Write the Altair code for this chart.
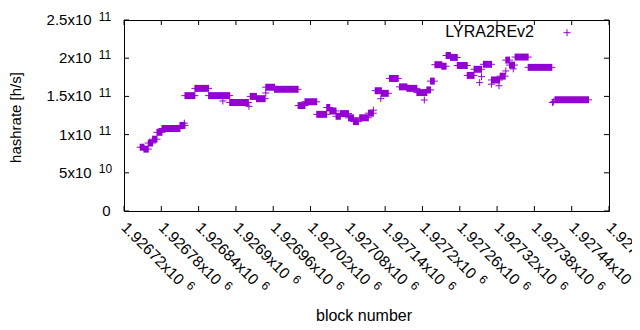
import altair as alt
import pandas as pd

PURPLE = "#9400D3"
FONT = "Liberation Sans"

X_MIN, X_MAX = 1926720, 1927500
Y_MIN, Y_MAX = 0, 2.5e11

# runs of (nearly) constant hashrate: first block, last block, value in 1e9 h/s
run_start = [1926746, 1926752, 1926759, 1926766, 1926773, 1926781, 1926810, 1926818,
             1926834, 1926856, 1926890, 1926923, 1926933, 1926948, 1926962, 1927000,
             1927011, 1927030, 1927046, 1927051, 1927061, 1927068, 1927081, 1927089,
             1927099, 1927113, 1927124, 1927134, 1927147, 1927163, 1927175, 1927191,
             1927207, 1927213, 1927220, 1927231, 1927238, 1927245, 1927256, 1927272,
             1927283, 1927298, 1927311, 1927325, 1927334, 1927340, 1927349, 1927370,
             1927413]
run_end = [1926752, 1926759, 1926766, 1926773, 1926781, 1926810, 1926818, 1926834,
           1926856, 1926890, 1926920, 1926933, 1926947, 1926962, 1927000, 1927011,
           1927030, 1927046, 1927051, 1927061, 1927068, 1927081, 1927089, 1927097,
           1927113, 1927121, 1927134, 1927145, 1927161, 1927175, 1927191, 1927207,
           1927213, 1927219, 1927231, 1927238, 1927245, 1927256, 1927272, 1927283,
           1927295, 1927311, 1927324, 1927333, 1927340, 1927348, 1927370, 1927408,
           1927467]
run_value = [83.5, 81, 89, 94, 103, 108, 112, 151,
             160.5, 151, 142, 150, 147, 162, 159.3, 138,
             143, 126.5, 135.5, 131, 124, 127.5, 122, 117,
             122, 128, 157.5, 154, 173.5, 162.5, 160.5, 155,
             158.5, 170, 191.5, 189.5, 203.5, 201, 190.5, 177.5,
             185.5, 192, 171.5, 176.5, 197.5, 191, 201.5, 188,
             145.5]

# isolated blocks
pt_block = [1926817, 1926879, 1926921, 1926948, 1927121, 1927133, 1927203, 1927292,
            1927295, 1927311, 1927323, 1927334, 1927346, 1927409, 1927411]
pt_value = [115, 144, 137, 154.5, 132, 147, 145.3, 168,
            175.8, 166, 164, 183.3, 186, 142, 143]

x_tick_values = [1926720, 1926780, 1926840, 1926900, 1926960, 1927020, 1927080,
                 1927140, 1927200, 1927260, 1927320, 1927380, 1927440, 1927500]
x_tick_mant = ["1.92672x10", "1.92678x10", "1.92684x10", "1.9269x10", "1.92696x10",
               "1.92702x10", "1.92708x10", "1.92714x10", "1.9272x10", "1.92726x10",
               "1.92732x10", "1.92738x10", "1.92744x10", "1.9275x10"]
x_tick_exp = ["6", "6", "6", "6", "6", "6", "6", "6", "6", "6", "6", "6", "6", "6"]

y_tick_values = [0, 5e10, 1e11, 1.5e11, 2e11, 2.5e11]
y_tick_mant = ["0", "5x10", "1x10", "1.5x10", "2x10", "2.5x10"]
y_tick_exp = ["", "10", "11", "11", "11", "11"]

series_name = "LYRA2REv2"
x_title = "block number"
y_title = "hashrate [h/s]"

W, H = 485, 191

runs = pd.DataFrame({"start": run_start, "end": run_end,
                     "v": [v * 1e9 for v in run_value]})
pts = pd.DataFrame({"block": pt_block, "v": [v * 1e9 for v in pt_value]})
xt = pd.DataFrame({"b": x_tick_values, "lab": x_tick_mant, "e": x_tick_exp})
xt_long = xt[xt["lab"].str.len() == 10]
xt_short = xt[xt["lab"].str.len() == 9]
yt = pd.DataFrame({"t": y_tick_values, "m": y_tick_mant, "e": y_tick_exp})
yt_exp = yt[yt["e"] != ""]
yt_zero = yt[yt["e"] == ""]

xs = alt.Scale(domain=[X_MIN, X_MAX], nice=False, zero=False)
ys = alt.Scale(domain=[Y_MIN, Y_MAX], nice=False, zero=False)

PLUS = "M-1,0H1M0,-1V1"

band = alt.Chart(runs).mark_rect(
    color=PURPLE, xOffset=-0.5, x2Offset=0.5, yOffset=-3.5, y2Offset=3.5
).encode(
    x=alt.X("start:Q", scale=xs, axis=None), x2="end:Q",
    y=alt.Y("v:Q", scale=ys, axis=None), y2="v:Q",
)
arms = alt.Chart(runs).mark_rule(
    color=PURPLE, strokeWidth=1, xOffset=-3.5, x2Offset=3.5
).encode(
    x=alt.X("start:Q", scale=xs, axis=None), x2="end:Q",
    y=alt.Y("v:Q", scale=ys, axis=None),
)
points = alt.Chart(pts).mark_point(
    shape=PLUS, size=49, color=PURPLE, strokeWidth=1, opacity=1, filled=False
).encode(
    x=alt.X("block:Q", scale=xs, axis=None),
    y=alt.Y("v:Q", scale=ys, axis=None),
)

tick_b = alt.Chart(xt).mark_rule(color="black", strokeWidth=1).encode(
    x=alt.X("b:Q", scale=xs, axis=None), y=alt.value(H), y2=alt.value(H - 5))
tick_t = alt.Chart(xt).mark_rule(color="black", strokeWidth=1).encode(
    x=alt.X("b:Q", scale=xs, axis=None), y=alt.value(0), y2=alt.value(5))
tick_l = alt.Chart(yt).mark_rule(color="black", strokeWidth=1).encode(
    y=alt.Y("t:Q", scale=ys, axis=None), x=alt.value(0), x2=alt.value(5))
tick_r = alt.Chart(yt).mark_rule(color="black", strokeWidth=1).encode(
    y=alt.Y("t:Q", scale=ys, axis=None), x=alt.value(W - 5), x2=alt.value(W))

txt = dict(font=FONT, color="black")

XL_Y = H + 14
xlab = alt.Chart(xt).mark_text(
    angle=45, align="left", baseline="middle", fontSize=15.5, **txt
).encode(x=alt.X("b:Q", scale=xs, axis=None), y=alt.value(XL_Y), text="lab:N")
xexp_long = alt.Chart(xt_long).mark_text(
    angle=45, align="left", baseline="middle", fontSize=12,
    dx=87, dy=-4.5, **txt
).encode(x=alt.X("b:Q", scale=xs, axis=None), y=alt.value(XL_Y), text="e:N")
xexp_short = alt.Chart(xt_short).mark_text(
    angle=45, align="left", baseline="middle", fontSize=12,
    dx=78.4, dy=-4.5, **txt
).encode(x=alt.X("b:Q", scale=xs, axis=None), y=alt.value(XL_Y), text="e:N")

ymant = alt.Chart(yt_exp).mark_text(
    align="right", baseline="middle", fontSize=15, **txt
).encode(y=alt.Y("t:Q", scale=ys, axis=None), x=alt.value(-32.4), text="m:N")
yexp = alt.Chart(yt_exp).mark_text(
    align="left", baseline="middle", fontSize=12, dy=-3.5, **txt
).encode(y=alt.Y("t:Q", scale=ys, axis=None), x=alt.value(-25.2), text="e:N")
yzero = alt.Chart(yt_zero).mark_text(
    align="right", baseline="middle", fontSize=15, **txt
).encode(y=alt.Y("t:Q", scale=ys, axis=None), x=alt.value(-13.4), text="m:N")

ytitle = alt.Chart(pd.DataFrame({"t": [y_title]})).mark_text(
    angle=270, align="center", baseline="middle", fontSize=15, **txt
).encode(x=alt.value(-108.4), y=alt.value(97.5), text="t:N")
xtitle = alt.Chart(pd.DataFrame({"t": [x_title]})).mark_text(
    align="center", baseline="middle", fontSize=16, **txt
).encode(x=alt.value(240), y=alt.value(296), text="t:N")

leg_df = pd.DataFrame({"t": [series_name]})
leg_text = alt.Chart(leg_df).mark_text(
    align="right", baseline="middle", fontSize=16, **txt
).encode(x=alt.value(410), y=alt.value(11.5), text="t:N")
leg_mark = alt.Chart(leg_df).mark_point(
    shape=PLUS, size=49, color=PURPLE, strokeWidth=1, opacity=1, filled=False
).encode(x=alt.value(443), y=alt.value(12.7))

chart = alt.layer(
    band, arms, points, tick_b, tick_t, tick_l, tick_r,
    xlab, xexp_long, xexp_short, ymant, yexp, yzero,
    ytitle, xtitle, leg_text, leg_mark,
).properties(
    width=W, height=H,
    autosize=alt.AutoSizeParams(type="none"),
    padding={"left": 116, "top": 12, "right": 23, "bottom": 111},
    background="white",
).configure_view(stroke="black", strokeWidth=1)

chart.save("out.html", embed_options={"renderer": "svg", "actions": False})
